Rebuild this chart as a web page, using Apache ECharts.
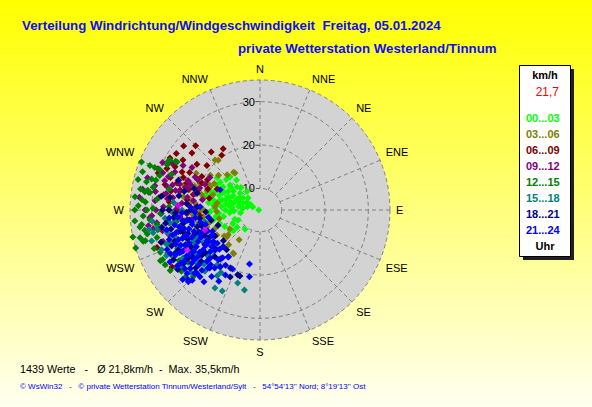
<!DOCTYPE html>
<html><head><meta charset="utf-8">
<script src="https://cdn.jsdelivr.net/npm/echarts@6/dist/echarts.min.js"></script>
<style>html,body{margin:0;padding:0;} #c{width:592px;height:407px;background:linear-gradient(#ffff00,#fffff0);}</style>
</head><body><div id="c"></div>
<script>
// ---- data ----
const directions = ['N','NNE','NE','ENE','E','ESE','SE','SSE','S','SSW','SW','WSW','W','WNW','NW','NNW'];
const speedTicks = [10, 20, 30];
const speedRange = [10, 35];
const hourGroups = ['00...03','03...06','06...09','09...12','12...15','15...18','18...21','21...24'];
const titleText = 'Verteilung Windrichtung/Windgeschwindigkeit  Freitag, 05.01.2024';
const subtitleText = 'private Wetterstation Westerland/Tinnum';
const unitText = 'km/h';
const currentSpeed = '21,7';
const hourUnit = 'Uhr';
const summaryText = '1439 Werte   -   \u00d8 21,8km/h  -  Max. 35,5km/h';
const footerText = '\u00a9 WsWin32   -   \u00a9 private Wetterstation Tinnum/Westerland/Sylt   -   54\u00b054\'13\'\' Nord; 8\u00b019\'13\'\' Ost';

// [speed km/h, direction deg]
const h00 = [[5.3,270],[6.8,293],[7.5,300],[8,285],[8.5,300],[8.9,315],[9,275],[9.2,292],[9.5,262],[9.8,305],[10,290],[10,280],[10.2,325],[10.5,300],[10.6,218],[10.6,245],[11,310],[11,290],[11,268],[11.2,250],[11.5,275],[11.6,233],[11.8,320],[12,265],[12,285],[12,298],[12,243],[12.2,278],[12.5,305],[12.5,315],[12.8,232],[13,280],[13,292],[13,270],[13.2,287],[13.3,236],[13.5,300],[13.5,260],[13.8,322],[14,285],[14,310],[14,275],[14,245],[14.2,296],[14.5,295],[14.5,265],[14.8,252],[15,280],[15,302],[15,290],[15.2,262],[15.3,318],[15.5,272],[15.5,312],[16,295],[16,282],[16,258],[16.2,305],[16.5,300],[16.5,268],[16.9,285],[17,290],[17,278],[17.4,307],[17.8,296],[18,286],[13.6,308],[12.6,292],[11.4,283],[10.8,296],[14.6,283],[15.8,276],[16.4,290]];
const h03 = [[15.3,326],[15.6,325],[16.1,317],[20,320],[20.5,318],[18.5,297],[17.7,295],[20.2,294],[16.4,288],[15.4,274],[15,268],[15,279],[18.2,263],[17.9,252],[21.7,244],[20.9,278],[16.8,211],[16.7,212],[14.8,231],[14.3,232],[13.2,238],[13.4,215],[15.2,234],[19,285],[18,270],[19.5,258],[17,262],[16,248],[21,290],[22,300],[19,305],[17.5,310],[18.8,240],[20,250],[22.5,262],[23,280],[16.5,240],[15.8,222],[21,230],[19.5,272],[18.3,282],[17.2,300],[14.6,258],[20.5,266],[23.5,288],[19,268],[20,276],[18,290],[17,256],[22,286],[21,252]];
const h06 = [[21.5,329],[22.5,320],[28.3,304],[20.4,325],[26.2,303],[23.4,298],[24.2,293],[27.7,285],[25.1,288],[19.8,295],[20.8,283],[22.2,286],[30.3,250],[29.2,237],[24,270],[22,278],[26,275],[20,288],[18,292],[23,262],[19,300],[25,296],[21,310],[27,290],[17,283],[22,268],[24,284],[16,296],[26,282],[28.5,294],[29,300],[23,306],[25.5,310],[27,297],[21.5,274],[19,265],[24.5,255],[26.5,263],[22.8,292],[20.5,300],[27.5,279],[25,268],[23,290],[21,296],[28,310],[26,315],[30,290]];
const h09 = [[30.4,292],[29,291],[29.9,283],[26.5,294],[21.8,297],[19.8,290],[21,296],[18.8,303],[30,267],[29,263],[27.3,272],[29.3,275],[25.3,278],[23.1,275],[21.9,267],[30,260],[30.5,266],[28,287],[27,280],[26,286],[25,290],[24,283],[23,292],[22.5,286],[28.5,277],[31,279],[31.5,270],[27.8,268],[26.2,262],[24.5,270],[22,280],[20.5,284],[19,295],[25.5,300],[23.5,302],[28,298],[32,286],[30,296],[26.8,255],[24,258],[21,262],[28.5,252],[20,272],[18.5,280],[33,276],[27.5,290],[25,283],[29.5,280],[26,270],[23,287],[27,284],[24.5,288],[22,290],[26.5,277],[29,270],[31,262],[28,258],[23.5,265],[20.5,278],[32.5,280]];
const h12 = [[34.5,292],[32.4,292],[31.2,292],[28.8,296],[29,298],[27.1,300],[31.9,279],[31.3,280],[28.9,276],[29.7,271],[31.1,270],[33.9,270],[32,267],[32.3,275],[33.1,272],[35,258],[35,253],[32.5,263],[31.6,258],[32.4,255],[29.6,255],[30.2,243],[30.3,240],[30,247],[28.2,228],[26.8,225],[26,230],[33.4,257],[32.9,255],[30.8,243],[30.7,279],[30.2,282],[27.5,300],[28.8,299],[33,262],[34,265],[31,250],[29,262],[28,268],[30,286],[32,284],[29.5,289],[27,292],[26.5,283],[27.5,250],[28.5,245],[27,238],[25.5,234],[34,284],[33.5,288],[31.5,274],[30.5,265],[29,259],[26,272],[24.5,262],[33,280],[31,286],[30,292],[34,276],[32,260],[29,252],[30,236],[28,232]];
const h15 = [[25.8,210],[25.6,205],[23.8,191],[22.6,197],[30.2,258],[23.1,213],[19.3,219],[20,207],[27.8,242],[27.3,234],[24,250],[26,245],[22,255],[20,240],[25,262],[27,256],[23,235],[21,228],[28,250],[19,250],[24,230],[26,238],[22,244],[29,260],[23,270],[25,275],[20,265],[27,265],[18,258],[21,218],[24,222],[22,212],[20,225],[29.5,248],[31,254],[28.5,235],[26.5,228],[30,264],[25.5,252],[23.5,240],[24,258],[26,262],[21,246],[27,248],[23,226],[29,244],[25,268],[31,260]];
const h18 = [[19.6,219],[20,207],[20.8,199],[17,220],[20.9,197],[21.9,204],[18.1,214],[21,215],[17,225],[15.3,250],[18.6,230],[20,224],[22.7,221],[28.4,234],[22,240],[24,245],[26,250],[20,255],[23,260],[25,265],[21,270],[19,245],[27,243],[22,232],[24,236],[26,258],[28,240],[21,250],[23,248],[18,235],[25,228],[20,238],[27,262],[22,275],[24,280],[20,285],[26,278],[19,262],[17,240],[16,230],[23.5,254],[25.5,242],[21.5,262],[19.5,273],[27.5,270],[24.5,268],[22.5,252],[18.5,248],[26.5,235],[29,252],[21,288],[23,284],[25,290],[16.5,258],[17.5,268],[28,278],[24,255],[22,262],[26,244],[20,250],[23,242],[25,236],[21,232],[27,248],[19,255],[24,273],[22,268],[26,270],[18,242],[28,260],[23,229]];
const h21 = [[17.7,191],[20.6,189],[27.5,224],[17.5,232],[17.5,242],[19.1,238],[27.3,229],[28.1,226],[25.7,222],[18.8,273],[15.3,297],[29,228],[28.4,225],[25.6,225],[24.3,224],[28.3,247],[20,230],[21,235],[22,240],[23,245],[24,250],[25,255],[26,248],[27,242],[26,236],[25,232],[24,228],[23,233],[22,248],[21,252],[20,245],[19,250],[21,258],[23,256],[25,260],[27,252],[24,238],[22,226],[20,220],[19,228],[18,236],[18,248],[19,258],[20,263],[22,262],[24,265],[26,265],[23,268],[21,272],[25,242],[26,230],[27,236],[28,244],[23,222],[21,215],[22,218],[24,216],[26,218],[20,212],[19,218],[17,225],[18,214],[22,208],[24,210],[20,205],[25,246],[23,251],[21,243],[19,240],[24,258],[26,254],[27,258],[22,255],[20,237],[18,255],[17,262],[28,236],[29,240],[21,226],[23,238],[25,250],[22,235],[26,242],[24,244],[20,248],[27,232],[23,262],[19,233],[18,226],[25,238],[22,222],[24,233],[26,226],[21,260],[17,246],[20,268]];
const hLast = [[18.5,250],[24.2,241],[23.9,273]];

// ---- styles ----
const groupColors = ['#00ff00','#808000','#800000','#800080','#008000','#008080','#000080','#0000ff'];
const font = 'Liberation Sans, Arial, sans-serif';
const groupData = [h00,h03,h06,h09,h12,h15,h18,h21];

const chart = echarts.init(document.getElementById('c'), null, {renderer:'svg'});
const series = groupData.map((d,i)=>({
  type:'scatter', coordinateSystem:'polar', name:hourGroups[i], data:d,
  symbol:'diamond', symbolSize:7, clip:false, silent:true,
  itemStyle:{color:groupColors[i], opacity:1}
}));
series.push({type:'scatter', coordinateSystem:'polar', name:'last', data:hLast,
  symbol:'diamond', symbolSize:7, clip:false, silent:true, itemStyle:{color:'#ff00ff'}});

chart.setOption({
  animation:false,
  backgroundColor:'transparent',
  polar:{center:[260,210], radius:[21.7,130]},
  angleAxis:{
    type:'value', min:0, max:360, interval:22.5, startAngle:90, clockwise:true,
    axisLine:{show:false}, axisTick:{show:false},
    axisLabel:{margin:6, color:'#000', fontSize:11, fontFamily:font,
      formatter:v=>directions[Math.round(v/22.5)%16]},
    splitLine:{show:true, lineStyle:{color:'#808080', width:1, type:[4,3]}}
  },
  radiusAxis:{
    type:'value', min:speedRange[0], max:speedRange[1],
    interval:speedTicks[1]-speedTicks[0],
    axisLine:{show:false},
    axisTick:{show:true, inside:true, length:4, lineStyle:{color:'#606060'}},
    axisLabel:{inside:true, margin:5, color:'#000', fontSize:11, fontFamily:font, showMaxLabel:false,
      formatter:v=>speedTicks.indexOf(v)>=0?String(v):''},
    splitLine:{show:true, showMaxLine:false, lineStyle:{color:'#808080', width:1, type:[4,3]}}
  },
  legend:{
    data:hourGroups.map((n,i)=>({name:n, textStyle:{color:groupColors[i]}})),
    orient:'vertical', left:521, top:112, padding:0,
    itemWidth:0, itemHeight:12, itemGap:4, icon:'none', selectedMode:false,
    textStyle:{fontFamily:font, fontWeight:'bold', fontSize:11, lineHeight:12}
  },
  graphic:[
    {type:'circle', z:-100, silent:true, shape:{cx:260, cy:210, r:130}, style:{fill:'#d3d3d3'}},
    {type:'rect', z:-50, silent:true, shape:{x:523, y:69, width:51, height:191}, style:{fill:'#202020'}},
    {type:'rect', z:-40, silent:true, shape:{x:519.5, y:65.5, width:51, height:191}, style:{fill:'#ffffff', stroke:'#000', lineWidth:1}},
    {type:'text', silent:true, style:{text:unitText, x:545, y:75, align:'center', verticalAlign:'middle', font:'bold 11px '+font, fill:'#000'}},
    {type:'text', silent:true, style:{text:currentSpeed, x:559, y:92, align:'right', verticalAlign:'middle', font:'12px '+font, fill:'#ff0000'}},
    {type:'text', silent:true, style:{text:hourUnit, x:545, y:246, align:'center', verticalAlign:'middle', font:'bold 11px '+font, fill:'#000'}},
    {type:'text', silent:true, style:{text:titleText, x:22, y:25, align:'left', verticalAlign:'middle', font:'bold 13.3px '+font, fill:'#1010f0'}},
    {type:'text', silent:true, style:{text:subtitleText, x:238, y:48, align:'left', verticalAlign:'middle', font:'bold 13.3px '+font, fill:'#1010f0'}},
    {type:'text', silent:true, style:{text:summaryText, x:20, y:369, align:'left', verticalAlign:'middle', font:'10.8px '+font, fill:'#000'}},
    {type:'text', silent:true, style:{text:footerText, x:20, y:386, align:'left', verticalAlign:'middle', font:'8px '+font, fill:'#0000ff'}}
  ],
  series:series
});
</script></body></html>
